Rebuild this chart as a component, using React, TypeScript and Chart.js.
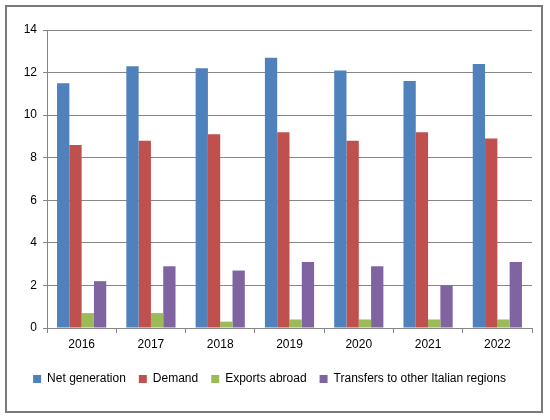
import React, { useEffect, useRef } from 'react';
import { Chart, registerables } from 'chart.js';

Chart.register(...registerables);

const years = ['2016', '2017', '2018', '2019', '2020', '2021', '2022'];
const netGeneration = [11.5, 12.3, 12.2, 12.7, 12.1, 11.6, 12.4];
const demand = [8.6, 8.8, 9.1, 9.2, 8.8, 9.2, 8.9];
const exportsAbroad = [0.7, 0.7, 0.3, 0.4, 0.4, 0.4, 0.4];
const transfers = [2.2, 2.9, 2.7, 3.1, 2.9, 2.0, 3.1];

const FONT = '"Liberation Sans", Arial, sans-serif';
const AXIS = '#868686';

const App: React.FC = () => {
    const canvasRef = useRef<HTMLCanvasElement>(null);

    useEffect(() => {
        document.body.style.margin = '0';
        if (!canvasRef.current) return;
        const chart = new Chart(canvasRef.current, {
            type: 'bar',
            data: {
                labels: years,
                datasets: [
                    { label: 'Net generation', data: netGeneration, backgroundColor: '#4F81BD' },
                    { label: 'Demand', data: demand, backgroundColor: '#C0504D' },
                    { label: 'Exports abroad', data: exportsAbroad, backgroundColor: '#9BBB59' },
                    { label: 'Transfers to other Italian regions', data: transfers, backgroundColor: '#8064A2' },
                ],
            },
            options: {
                animation: false,
                responsive: false,
                devicePixelRatio: 1,
                layout: { padding: { left: 0, right: 9, top: 23, bottom: 16 } },
                datasets: { bar: { categoryPercentage: 0.71, barPercentage: 1 } },
                plugins: {
                    tooltip: { enabled: false },
                    legend: {
                        position: 'bottom',
                        labels: {
                            boxWidth: 8,
                            boxHeight: 8,
                            padding: 13,
                            color: '#000',
                            font: { family: FONT, size: 12 },
                        },
                    },
                },
                scales: {
                    x: {
                        afterFit: (s: any) => { s.height = 32; },
                        border: { color: AXIS, width: 1 },
                        grid: { offset: true, drawOnChartArea: false, drawTicks: true, tickLength: 5, color: AXIS },
                        ticks: { color: '#000', font: { family: FONT, size: 12 }, padding: 4 },
                    },
                    y: {
                        min: 0,
                        max: 14,
                        afterFit: (s: any) => { s.width = 40; },
                        border: { color: AXIS, width: 1 },
                        grid: { color: AXIS, tickLength: 4 },
                        ticks: { stepSize: 2, color: '#000', font: { family: FONT, size: 12 }, padding: 6 },
                    },
                },
            },
        });
        return () => chart.destroy();
    }, []);

    return (
        <div style={{ position: 'relative', width: 550, height: 420, background: '#fff' }}>
            <div
                style={{
                    position: 'absolute',
                    left: 5,
                    top: 5,
                    width: 534,
                    height: 404,
                    border: '2px solid #7a7a7a',
                }}
            >
                <canvas ref={canvasRef} width={534} height={404} style={{ display: 'block' }} />
            </div>
        </div>
    );
};

export default App;
